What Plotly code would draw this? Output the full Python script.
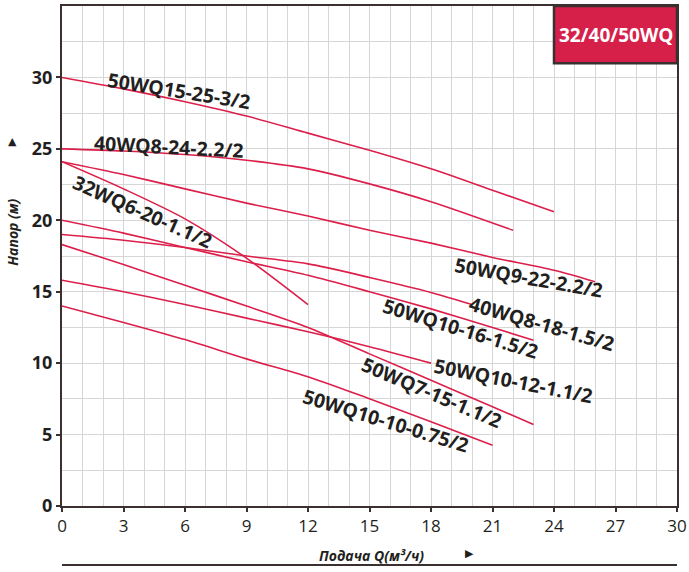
import plotly.graph_objects as go

# pump curves: flow Q (m3/h) and head H (m)
curve_names = [
    "50WQ15-25-3/2",
    "40WQ8-24-2.2/2",
    "50WQ9-22-2.2/2",
    "32WQ6-20-1.1/2",
    "50WQ10-16-1.5/2",
    "40WQ8-18-1.5/2",
    "50WQ7-15-1.1/2",
    "50WQ10-12-1.1/2",
    "50WQ10-10-0.75/2",
]
q_50wq15_25 = [0, 3, 6, 9, 12, 15, 18, 21, 24]
h_50wq15_25 = [30, 29.2, 28.3, 27.3, 26.1, 24.9, 23.6, 22.1, 20.6]
q_40wq8_24 = [0, 3, 6, 9, 12, 15, 18, 22]
h_40wq8_24 = [25, 24.85, 24.6, 24.2, 23.6, 22.55, 21.3, 19.3]
q_50wq9_22 = [0, 3, 6, 9, 12, 15, 18, 21, 24, 26]
h_50wq9_22 = [24.1, 23.2, 22.2, 21.2, 20.3, 19.3, 18.4, 17.4, 16.5, 15.7]
q_32wq6_20 = [0, 3, 6, 9, 12]
h_32wq6_20 = [24.1, 22.2, 20.1, 17.35, 14.1]
q_50wq10_16 = [0, 3, 6, 9, 12, 15, 18, 21, 23]
h_50wq10_16 = [20, 19.1, 18.1, 17.1, 16.15, 15.0, 13.8, 12.5, 11.6]
q_40wq8_18 = [0, 3, 6, 9, 12, 15, 18, 20]
h_40wq8_18 = [19.0, 18.6, 18.1, 17.5, 16.95, 16.0, 14.95, 14.1]
q_50wq7_15 = [0, 3, 6, 9, 12, 15, 18, 21, 23]
h_50wq7_15 = [18.3, 16.9, 15.45, 14.0, 12.5, 10.65, 8.8, 6.95, 5.7]
q_50wq10_12 = [0, 3, 6, 9, 12, 15, 18]
h_50wq10_12 = [15.8, 15.0, 14.1, 13.15, 12.2, 11.15, 10.0]
q_50wq10_10 = [0, 3, 6, 9, 12, 15, 18, 21]
h_50wq10_10 = [14.0, 12.85, 11.65, 10.3, 9.05, 7.5, 5.9, 4.25]

curves = [
    (q_50wq15_25, h_50wq15_25),
    (q_40wq8_24, h_40wq8_24),
    (q_50wq9_22, h_50wq9_22),
    (q_32wq6_20, h_32wq6_20),
    (q_50wq10_16, h_50wq10_16),
    (q_40wq8_18, h_40wq8_18),
    (q_50wq7_15, h_50wq7_15),
    (q_50wq10_12, h_50wq10_12),
    (q_50wq10_10, h_50wq10_10),
]

# label placement (Q, H, angle) per curve
label_q = [5.7, 5.2, 22.8, 3.95, 19.45, 23.4, 18.05, 22.0, 15.8]
label_h = [29.1, 25.2, 16.0, 20.65, 12.4, 12.8, 7.95, 8.8, 6.0]
label_angle = [9, 3, 10, 24, 17, 16, 23, 11, 17]

x_ticks = list(range(0, 31, 3))
y_ticks = list(range(0, 31, 5))

LINE_RED = "#dc1f4a"
DARK = "#231f20"
FRAME = "#3a3030"
FONT = "Open Sans"

fig = go.Figure()
for name, (q, h) in zip(curve_names, curves):
    fig.add_trace(go.Scatter(x=q, y=h, mode="lines", name=name,
                             line=dict(color=LINE_RED, width=1.6, shape="spline", smoothing=0.8)))

for name, lq, lh, ang in zip(curve_names, label_q, label_h, label_angle):
    fig.add_annotation(x=lq, y=lh, text=name, showarrow=False, textangle=ang,
                       font=dict(family=FONT, size=19.5, color=DARK, weight="bold"))

# series badge in the top right corner
fig.add_shape(type="rect", x0=24, x1=30, y0=31, y1=35, xref="x", yref="y",
              fillcolor="#d6204a", line=dict(color=FRAME, width=2.5), layer="above")
fig.add_annotation(x=27, y=33, text="32/40/50WQ", showarrow=False,
                   font=dict(family=FONT, size=19, color="white", weight="bold"))

# axis titles with little arrows
fig.add_annotation(xref="paper", yref="paper", x=0.504, y=-0.098, xanchor="center", yanchor="middle",
                   text="<i>Подача Q(м³/ч)</i>", showarrow=False,
                   font=dict(family=FONT, size=14, color=DARK, weight="bold"))
fig.add_annotation(xref="paper", yref="paper", x=0.662, y=-0.095, xanchor="center", yanchor="middle",
                   text="▶", showarrow=False, font=dict(family="DejaVu Sans", size=11, color=DARK))
fig.add_annotation(xref="paper", yref="paper", x=-0.081, y=0.547, xanchor="center", yanchor="middle",
                   text="<i>Напор (м)</i>", textangle=-90, showarrow=False,
                   font=dict(family=FONT, size=14, color=DARK, weight="bold"))
fig.add_annotation(xref="paper", yref="paper", x=-0.081, y=0.73, xanchor="center", yanchor="middle",
                   text="▲", showarrow=False, font=dict(family="DejaVu Sans", size=11, color=DARK))
fig.add_shape(type="line", xref="paper", yref="paper", x0=0, x1=1, y0=-0.118, y1=-0.118,
              line=dict(color=FRAME, width=2))

fig.update_xaxes(range=[0, 30], tickvals=x_ticks, showgrid=True, gridcolor="#d6d6d6", gridwidth=1.3,
                 minor=dict(dtick=1, showgrid=True, gridcolor="#d6d6d6", gridwidth=1.3),
                 showline=True, linecolor=FRAME, linewidth=2, mirror=True,
                 ticks="outside", ticklen=4, tickcolor=FRAME, tickwidth=2, automargin=False,
                 tickfont=dict(family=FONT, size=17, color=DARK), zeroline=False)
fig.update_yaxes(range=[0, 35], tickvals=y_ticks, showgrid=True, gridcolor="#d6d6d6", gridwidth=1.3,
                 minor=dict(dtick=2.5, showgrid=True, gridcolor="#d6d6d6", gridwidth=1.3),
                 showline=True, linecolor=FRAME, linewidth=2, mirror=True,
                 ticks="outside", ticklen=4, tickcolor=FRAME, tickwidth=2, automargin=False,
                 tickfont=dict(family=FONT, size=18, color=DARK, weight="bold"), zeroline=False)

fig.update_layout(width=689, height=572, margin=dict(l=62, r=12, t=6, b=66),
                  paper_bgcolor="white", plot_bgcolor="white", showlegend=False)

# drop the default page margin so the figure sits at the window corner
fig.write_html("out.html", config={"displayModeBar": False},
               post_script="document.body.style.margin='0';")
